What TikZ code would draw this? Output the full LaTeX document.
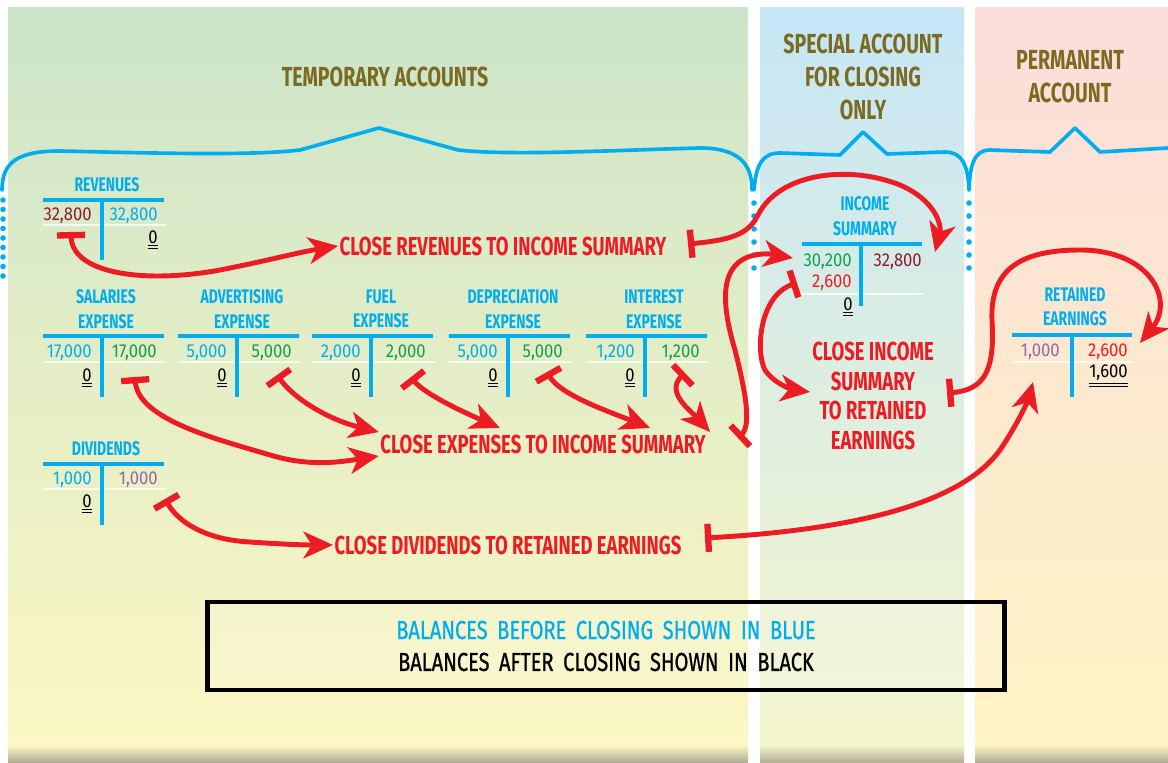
\documentclass[tikz,border=0pt]{standalone}
\usepackage{fontspec}
\usepackage{xcolor}
\usepackage{tikz}
\usetikzlibrary{arrows.meta}

\newfontfamily\headfont{Fira Sans}[FakeStretch=0.71]
\newfontfamily\numfont{Fira Sans}[FakeStretch=0.89]
\newfontfamily\legendfont{Fira Sans}[FakeStretch=0.77,FakeBold=0.8,WordSpace=1.8]
\newcommand{\dul}[1]{\underline{\underline{#1}}}

\definecolor{acctblue}{RGB}{0,174,239}
\definecolor{headolive}{RGB}{122,106,34}
\definecolor{closered}{RGB}{237,28,36}
\definecolor{darkred}{RGB}{140,28,48}
\definecolor{sumgreen}{RGB}{16,160,75}
\definecolor{divpurple}{RGB}{155,100,170}
\definecolor{tempgreen}{RGB}{204,228,201}
\definecolor{tempyellow}{RGB}{252,247,195}
\definecolor{specblue}{RGB}{198,230,246}
\definecolor{specyellow}{RGB}{244,245,205}
\definecolor{permpink}{RGB}{252,221,218}
\definecolor{permyellow}{RGB}{254,244,196}
\definecolor{floorgray}{RGB}{178,174,152}

\tikzset{
  acct/.style={font=\headfont\bfseries\fontsize{14}{17.4}\selectfont, text=acctblue, align=center, inner sep=0pt},
  amt/.style={font=\numfont\fontsize{13.3}{15}\selectfont, anchor=east, inner sep=0pt},
  tline/.style={acctblue, line width=2.8pt},
  rule/.style={white, opacity=0.75, line width=1.6pt},
  heading/.style={font=\headfont\bfseries\fontsize{19.6}{23.4}\selectfont, text=headolive, align=center},
  closelabel/.style={font=\headfont\bfseries\fontsize{18.5}{21}\selectfont, text=closered, align=center, inner sep=1pt},
  closearrow/.style={closered, line width=3.5pt,
    {Bar[width=20pt,line width=4.5pt]}-{Stealth[length=21pt,width=19pt,inset=6pt]}},
  brace/.style={acctblue, line width=2.6pt, line cap=round, line join=round},
}

\begin{document}
\begin{tikzpicture}[x=0.025cm, y=-0.025cm]
  \useasboundingbox (0,0) rectangle (1168,762);

  % panels
  \shade[top color=tempgreen, bottom color=tempyellow] (8,8) rectangle (748,745);
  \shade[top color=specblue, bottom color=specyellow] (760,8) rectangle (964,745);
  \shade[top color=permpink, bottom color=permyellow] (975,8) rectangle (1168,745);
  \shade[top color=tempyellow, bottom color=floorgray] (8,745) rectangle (748,762);
  \shade[top color=specyellow, bottom color=floorgray] (760,745) rectangle (964,762);
  \shade[top color=permyellow, bottom color=floorgray] (975,745) rectangle (1168,762);

  % headings
  \node[heading] (temp) at (385,77) {TEMPORARY ACCOUNTS};
  \node[heading] (spec) at (863,77) {SPECIAL ACCOUNT\\FOR CLOSING\\ONLY};
  \node[heading] (perm) at (1070,77) {PERMANENT\\ACCOUNT};

  % braces
  \draw[brace] (2,190) .. controls (2,162) and (18,151) .. (60,151)
    .. controls (150,153) and (250,156) .. (300,150) -- (379,128) -- (458,150)
    .. controls (510,156) and (620,150) .. (700,148)
    .. controls (740,148) and (752,165) .. (752,190);
  \draw[brace] (754,190) .. controls (756,165) and (762,153) .. (780,153)
    -- (840,155) -- (863,132) -- (887,154) -- (945,152)
    .. controls (962,152) and (968,165) .. (969,190);
  \draw[brace] (969,190) .. controls (970,165) and (974,150) .. (990,150)
    -- (1050,152) -- (1075,128) -- (1100,152) -- (1168,148);
  \foreach \y in {200,209.5,...,276} \fill[acctblue] (3,\y) circle (2.8);
  \foreach \y in {203,216,...,268} {
    \fill[acctblue] (754,\y) circle (2.8);
    \fill[acctblue] (969,\y) circle (2.8);
  }

  % revenues
  \node[acct] (rev) at (107,185) {REVENUES};
  \draw[tline] (43,200) -- (164,200);
  \draw[rule] (43,225) -- (166,225);
  \draw[tline] (102,200) -- (102,260);
  \node[amt, text=darkred] (rev-dr) at (92,216) {32,800};
  \node[amt, text=acctblue] (rev-cr) at (158,216) {32,800};
  \node[amt] (rev-bal) at (158,240) {\dul{0}};

  % expenses
  \foreach \nm/\vx/\tx/\ttl/\amt in {sal/102/106/SALARIES/{17,000}, adv/237/242/ADVERTISING/{5,000},
      fuel/371/381/FUEL/{2,000}, dep/508/513/DEPRECIATION/{5,000}, int/645/654/INTEREST/{1,200}} {
    \node[acct] (\nm) at (\tx,309) {\ttl\\EXPENSE};
    \draw[tline] (\vx-59,336) -- (\vx+62,336);
    \draw[rule] (\vx-59,362) -- (\vx+64,362);
    \draw[tline] (\vx,336) -- (\vx,397);
    \node[amt, text=acctblue] (\nm-dr) at (\vx-10,353) {\amt};
    \node[amt, text=sumgreen] (\nm-cr) at (\vx+55,353) {\amt};
    \node[amt] (\nm-bal) at (\vx-10,378) {\dul{0}};
  }

  % dividends
  \node[acct] (div) at (106,449) {DIVIDENDS};
  \draw[tline] (43,464) -- (164,464);
  \draw[rule] (43,489) -- (166,489);
  \draw[tline] (102,464) -- (102,525);
  \node[amt, text=acctblue] (div-dr) at (92,480) {1,000};
  \node[amt, text=divpurple] (div-cr) at (158,480) {1,000};
  \node[amt] (div-bal) at (92,504) {\dul{0}};

  % income summary
  \node[acct] (is) at (865,216) {INCOME\\SUMMARY};
  \draw[tline] (802,244) -- (922,244);
  \draw[rule] (800,294) -- (924,294);
  \draw[tline] (861,244) -- (861,306);
  \node[amt, text=sumgreen] (is-dr) at (852,262) {30,200};
  \node[amt, text=closered] (is-ni) at (852,283) {2,600};
  \node[amt, text=darkred] (is-cr) at (922,262) {32,800};
  \node[amt] (is-bal) at (853,307) {\dul{0}};

  % retained earnings
  \node[acct] (re) at (1075,307) {RETAINED\\EARNINGS};
  \draw[tline] (1012,335) -- (1132,335);
  \draw[rule] (1012,362) -- (1134,362);
  \draw[tline] (1072,335) -- (1072,397);
  \node[amt, text=divpurple] (re-dr) at (1060,352) {1,000};
  \node[amt, text=closered] (re-cr) at (1128,352) {2,600};
  \node[amt] (re-bal) at (1128,376) {\dul{1,600}};

  % closing labels
  \node[closelabel] (crev) at (503,246) {CLOSE REVENUES TO INCOME SUMMARY};
  \node[closelabel] (cexp) at (543,444) {CLOSE EXPENSES TO INCOME SUMMARY};
  \node[closelabel] (cdiv) at (508,545) {CLOSE DIVIDENDS TO RETAINED EARNINGS};
  \node[closelabel] (cis) at (873,396) {CLOSE INCOME\\SUMMARY\\TO RETAINED\\EARNINGS};

  % cut points and arrow ends
  \coordinate (rev-cut) at (71,232);
  \coordinate (crev-cut) at (688,244);
  \coordinate (is-top) at (935,252);
  \coordinate (sal-cut) at (135,377);
  \coordinate (adv-cut) at (277,375);
  \coordinate (fuel-cut) at (411,377);
  \coordinate (dep-cut) at (547,372);
  \coordinate (int-cut) at (685,373);
  \coordinate (cexp-cut) at (738,438);
  \coordinate (is-left) at (793,258);
  \coordinate (is-cut) at (797,283);
  \coordinate (cis-cut) at (947,393);
  \coordinate (re-right) at (1140,343);
  \coordinate (div-cut) at (165,499);
  \coordinate (cdiv-cut) at (705,538);
  \coordinate (re-bottom) at (1033,382);

  % closing entries
  \draw[closearrow] (rev-cut) .. controls (72,275) and (150,285) .. (230,268)
    .. controls (270,260) and (300,252) .. (crev.west);
  \draw[closearrow] (crev-cut) .. controls (730,240) and (748,235) .. (758,215)
    .. controls (780,172) and (850,165) .. (900,185)
    .. controls (935,200) and (942,225) .. (is-top);
  \draw[closearrow] (sal-cut) .. controls (138,420) and (220,440) .. (270,455)
    .. controls (310,467) and (340,462) .. ([yshift=-3mm]cexp.west);
  \draw[closearrow] (adv-cut) .. controls (295,400) and (330,420) .. ([yshift=3mm]cexp.west);
  \draw[closearrow] (fuel-cut) .. controls (425,395) and (470,415) .. (500,428);
  \draw[closearrow] (dep-cut) .. controls (560,395) and (610,412) .. (650,428);
  \draw[closearrow] (int-cut) .. controls (665,392) and (690,410) .. (710,432);
  \draw[closearrow] (cexp-cut) .. controls (752,425) and (745,390) .. (735,350)
    .. controls (720,300) and (720,262) .. (755,255)
    .. controls (770,252) and (780,256) .. (is-left);
  \draw[closearrow] (is-cut) .. controls (760,295) and (755,350) .. (765,370)
    .. controls (775,385) and (795,390) .. (810,392);
  \draw[closearrow] (cis-cut) .. controls (985,390) and (995,370) .. (992,320)
    .. controls (990,270) and (1020,250) .. (1080,250)
    .. controls (1150,250) and (1175,300) .. (re-right);
  \draw[closearrow] (div-cut) .. controls (180,525) and (210,540) .. (250,542)
    .. controls (280,544) and (300,545) .. (cdiv.west);
  \draw[closearrow] (cdiv-cut) .. controls (850,530) and (960,505) .. (1000,450)
    .. controls (1020,420) and (1028,400) .. (re-bottom);

  % legend
  \node[draw=black, line width=3.5pt, fill=white, fill opacity=0.15, text opacity=1,
    minimum width=19.9cm, minimum height=2.2cm, align=center,
    font=\legendfont\fontsize{18.5}{22.7}\selectfont] (legend) at (606,646)
    {\textcolor{acctblue}{BALANCES BEFORE CLOSING SHOWN IN BLUE}\\BALANCES AFTER CLOSING SHOWN IN BLACK};
\end{tikzpicture}
\end{document}
